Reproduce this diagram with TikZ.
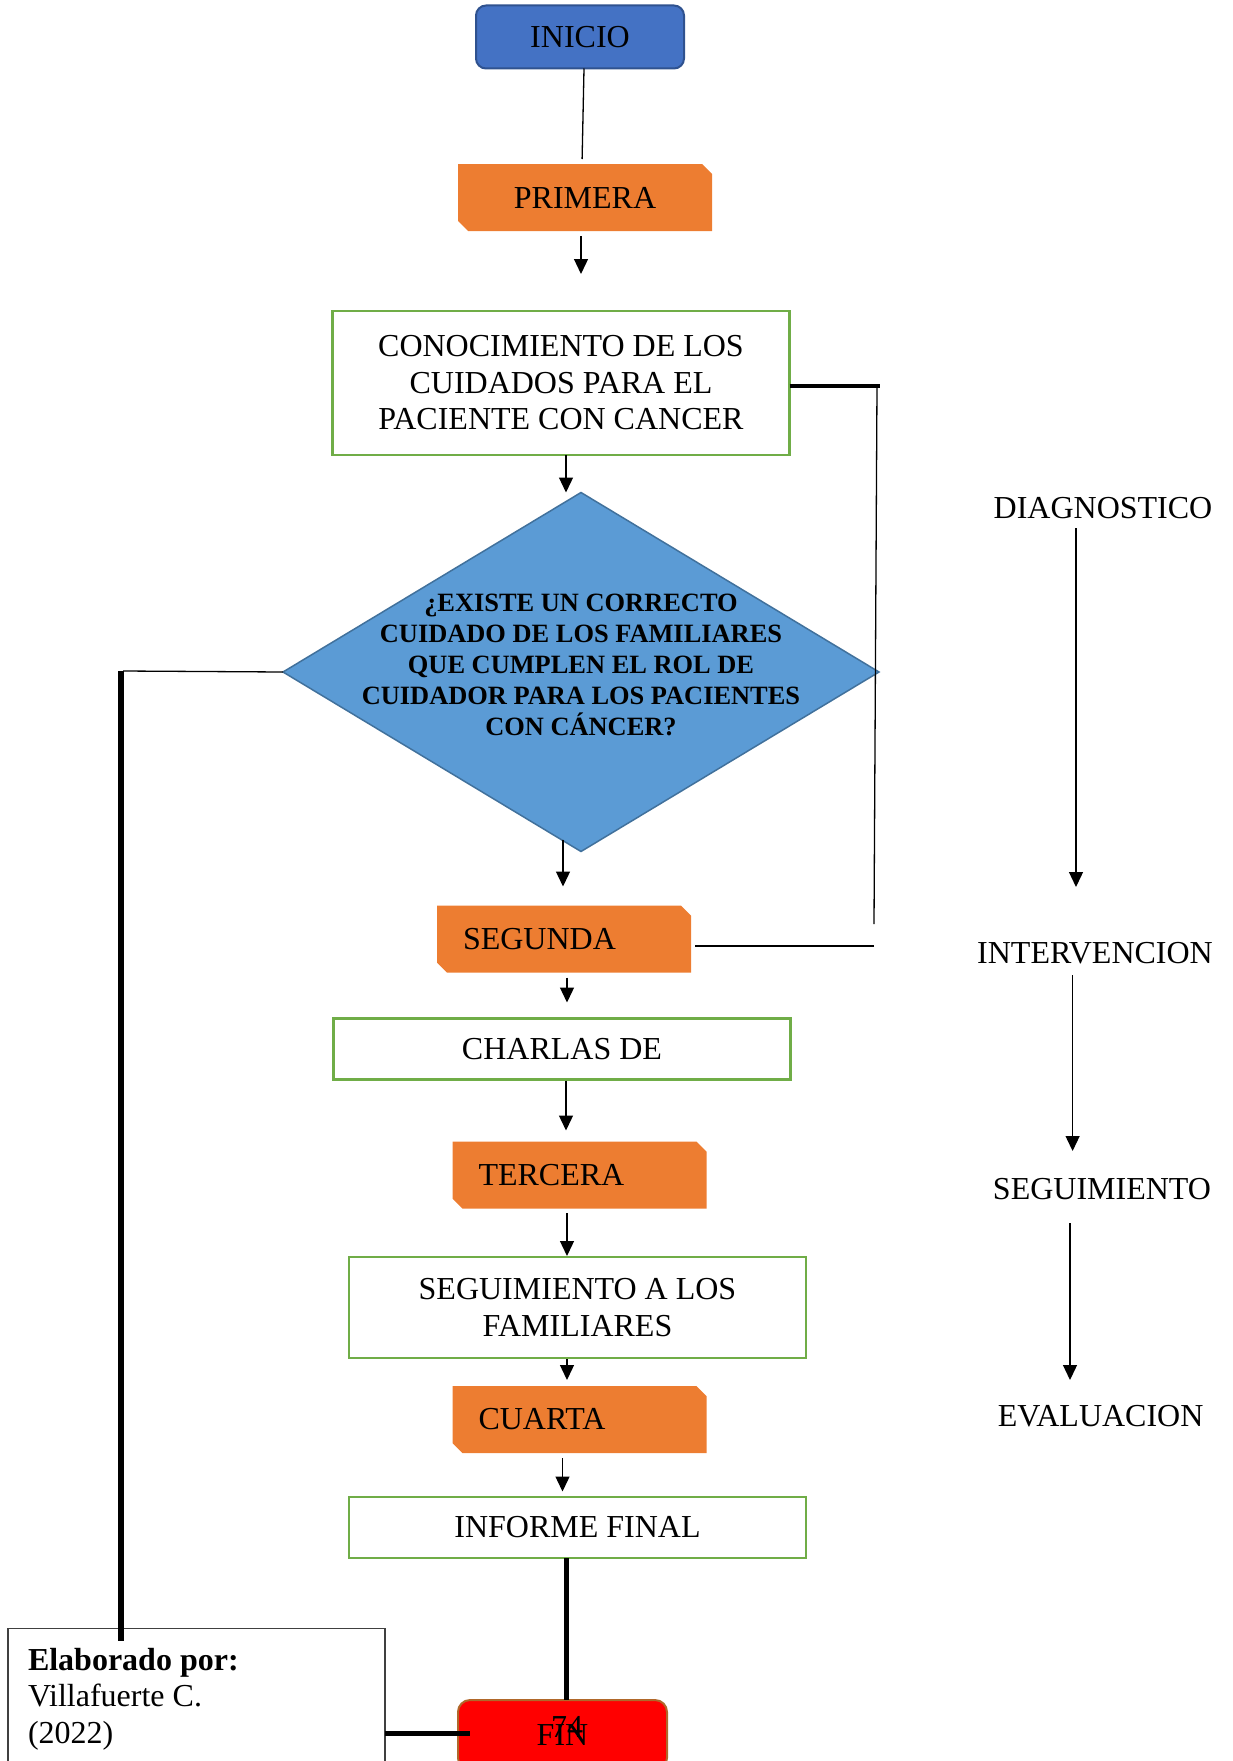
\documentclass[tikz,border=0pt]{standalone}
\usepackage{fontspec}
\setmainfont{Liberation Serif}
\usetikzlibrary{arrows.meta,calc,shapes.geometric}
\definecolor{blueA}{HTML}{4472C4}
\definecolor{blueB}{HTML}{2F528F}
\definecolor{blueC}{HTML}{5B9BD5}
\definecolor{blueD}{HTML}{41719C}
\definecolor{orangeA}{HTML}{ED7D31}
\definecolor{greenA}{HTML}{70AD47}
\definecolor{finborder}{HTML}{B0682A}
\definecolor{grayA}{HTML}{404040}
\newcommand\bigtxt{\fontsize{32pt}{36.5pt}\selectfont}
\newcommand\qtxt{\fontsize{26.4pt}{30.9pt}\selectfont\bfseries}
\begin{document}
\begin{tikzpicture}[x=1pt,y=-1pt,
  every node/.style={inner sep=0pt, outer sep=0pt, font=\bigtxt},
  thinln/.style={line width=1.3pt, black},
  arr/.style={thinln, -{Triangle[width=14pt,length=15pt]}},
  thickln/.style={line width=5pt, black},
  snipbox/.style={rectangle, minimum width=254pt, minimum height=67pt,
    path picture={\fill[orangeA]
      ([xshift=10pt]path picture bounding box.south west) --
      (path picture bounding box.south east) --
      ([yshift=-10pt]path picture bounding box.north east) --
      ([xshift=-10pt]path picture bounding box.north east) --
      (path picture bounding box.north west) --
      ([yshift=10pt]path picture bounding box.south west) -- cycle;}},
  leftsnip/.style={snipbox, text width=202pt, inner xsep=26pt, align=left},
  greenbox/.style={rectangle, draw=greenA, line width=2.5pt, fill=white, minimum width=457pt, align=center},
  sidelabel/.style={font=\bigtxt}
]
\useasboundingbox (0,0) rectangle (1232,1761);

% main flow nodes
\node[rounded corners=10pt, fill=blueA, draw=blueB, line width=2pt,
      minimum width=208pt, minimum height=63pt] (inicio) at (580,37) {INICIO};
\node[snipbox] (primera) at (585,197.5) {PRIMERA};
\node[greenbox, minimum height=144pt] (conoc) at (561,383)
  {CONOCIMIENTO DE LOS\\CUIDADOS PARA EL\\PACIENTE CON CANCER};
\node[diamond, fill=blueC, draw=blueD, line width=1.5pt,
      minimum width=596pt, minimum height=359pt] (diam) at (581,672) {};
\node[font=\qtxt, align=center] (qtext) at (581,665)
  {¿EXISTE UN CORRECTO\\CUIDADO DE LOS FAMILIARES\\QUE CUMPLEN EL ROL DE\\CUIDADOR PARA LOS PACIENTES\\CON CÁNCER?};
\node[leftsnip] (segunda) at (564,939) {SEGUNDA};
\node[greenbox, minimum height=61pt] (charlas) at (562,1049) {CHARLAS DE};
\node[leftsnip] (tercera) at (579.5,1175) {TERCERA};
\node[greenbox, minimum height=101pt] (seg) at (577.5,1307.5) {SEGUIMIENTO A LOS\\FAMILIARES};
\node[leftsnip] (cuarta) at (579.5,1419.5) {CUARTA};
\node[greenbox, minimum height=61pt] (informe) at (577.5,1527.5) {INFORME FINAL};
\node[rounded corners=12pt, fill=red, draw=finborder, line width=2pt,
      minimum width=209pt, minimum height=70pt] (fin) at (562.5,1735) {FIN};
\node (pnum) at (567,1727) {74};

% author box
\node[rectangle, draw=grayA, line width=1.3pt, fill=white,
      minimum width=377pt, minimum height=171pt] (elab) at (196.5,1714) {};
\node[anchor=north west, align=left] (elabtxt) at (28,1648)
  {\textbf{Elaborado por:}\\Villafuerte C.\\(2022)};

% right side labels
\node[sidelabel] (diag) at (1103,507.6) {DIAGNOSTICO};
\node[sidelabel] (interv) at (1095,953.5) {INTERVENCION};
\node[sidelabel] (segu) at (1102,1189) {SEGUIMIENTO};
\node[sidelabel] (eval) at (1100.6,1416) {EVALUACION};

% coordinates for loops
\coordinate (r1) at (877,386);
\coordinate (r2) at (874,924);
\coordinate (r3) at (874,946);
\coordinate (l1) at (121,671);

% main connectors
\draw[thinln, shorten >=5pt] ([xshift=4pt]inicio.south) -- ([xshift=-3pt]primera.north);
\draw[arr, shorten <=5pt, shorten >=37pt] ([xshift=-4pt]primera.south) -- ([xshift=-4pt]primera.south |- conoc.north);
\draw[arr] ([xshift=5pt]conoc.south) -- ([xshift=5pt]conoc.south |- diam.north);
\draw[arr] ([xshift=-1pt,yshift=66pt]segunda.north) -- ([xshift=-1pt,yshift=19pt]segunda.north);
\draw[arr, shorten <=5pt, shorten >=16pt] ([xshift=3pt]segunda.south) -- ([xshift=3pt]segunda.south |- charlas.north);
\draw[arr, shorten <=1pt, shorten >=11pt] ([xshift=4pt]charlas.south) -- ([xshift=4pt]charlas.south |- tercera.north);
\draw[arr, shorten <=4.5pt, shorten >=1pt] ([xshift=-12.5pt]tercera.south) -- ([xshift=-12.5pt]tercera.south |- seg.north);
\draw[arr, shorten <=1pt, shorten >=6pt] ([xshift=-10.5pt]seg.south) -- ([xshift=-10.5pt]seg.south |- cuarta.north);
\draw[arr, shorten <=5pt, shorten >=5.5pt] ([xshift=-17pt]cuarta.south) -- ([xshift=-17pt]cuarta.south |- informe.north);
\draw[thickln] ([xshift=-11.5pt]informe.south) -- ([xshift=-11.5pt]informe.south |- fin.north);

% right loop
\draw[line width=3.5pt] ([yshift=-3pt]conoc.east) -- ([xshift=2.5pt]r1);
\draw[thinln] (r1) -- (r2);
\draw[thinln] (r3) -- ([xshift=4pt,yshift=-7pt]segunda.east);

% left loop
\draw[thinln] (diam.west) -- ([xshift=2pt]l1);
\draw[line width=5.5pt] (l1) -- ([yshift=-12pt]l1 |- elab.north);
\draw[thickln] ([yshift=-19pt]elab.east) -- ([xshift=11.5pt,yshift=2pt]fin.west);

% side arrows
\draw[arr] ([xshift=-27pt,yshift=-20.4pt]diag.center) -- ([xshift=-19pt,yshift=66.5pt]interv.center);
\draw[arr] ([xshift=-22.4pt,yshift=-21.5pt]interv.center) -- ([xshift=-29.4pt,yshift=38pt]segu.center);
\draw[arr] ([xshift=-32pt,yshift=-34pt]segu.center) -- ([xshift=-30.6pt,yshift=36pt]eval.center);
\end{tikzpicture}
\end{document}
